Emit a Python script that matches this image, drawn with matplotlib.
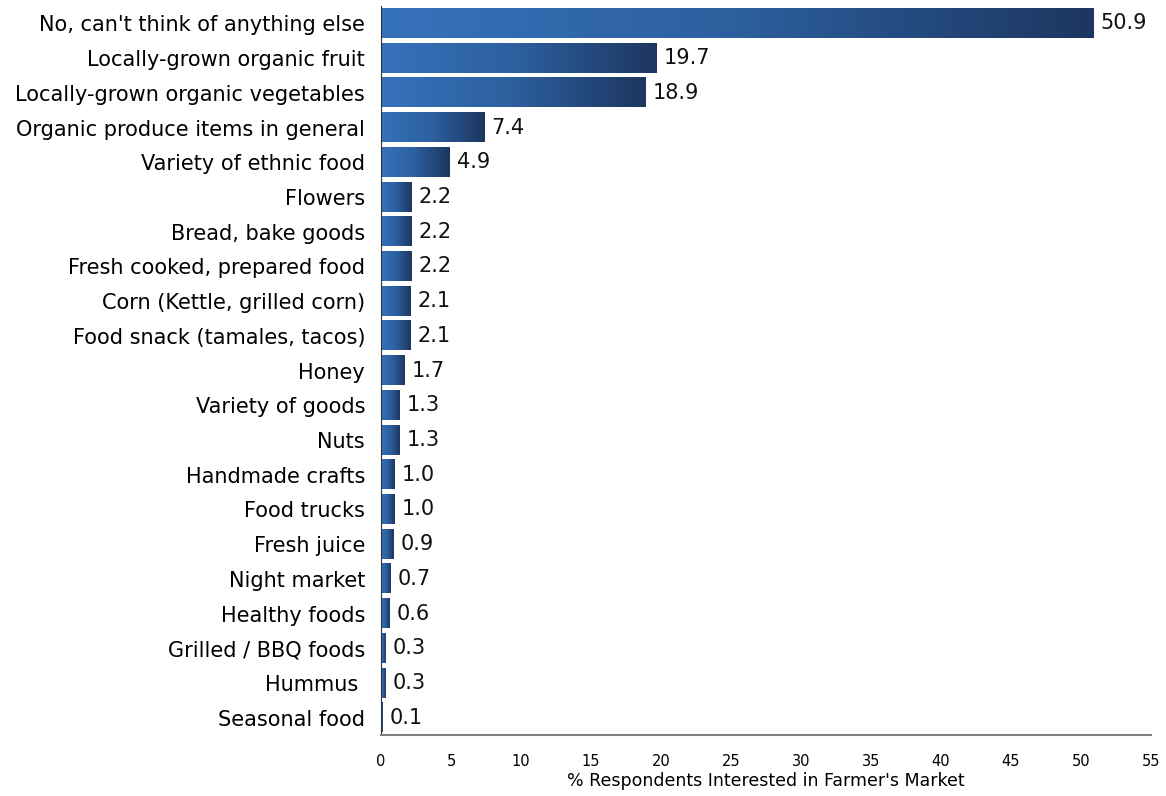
import numpy as np
import matplotlib.pyplot as plt
from matplotlib.colors import LinearSegmentedColormap

categories = [
    "No, can't think of anything else",
    "Locally-grown organic fruit",
    "Locally-grown organic vegetables",
    "Organic produce items in general",
    "Variety of ethnic food",
    "Flowers",
    "Bread, bake goods",
    "Fresh cooked, prepared food",
    "Corn (Kettle, grilled corn)",
    "Food snack (tamales, tacos)",
    "Honey",
    "Variety of goods",
    "Nuts",
    "Handmade crafts",
    "Food trucks",
    "Fresh juice",
    "Night market",
    "Healthy foods",
    "Grilled / BBQ foods",
    "Hummus ",
    "Seasonal food",
]
values = [50.9, 19.7, 18.9, 7.4, 4.9, 2.2, 2.2, 2.2, 2.1, 2.1, 1.7, 1.3, 1.3,
          1.0, 1.0, 0.9, 0.7, 0.6, 0.3, 0.3, 0.1]
xticks = list(range(0, 60, 5))

cmap = LinearSegmentedColormap.from_list("bar", ["#3672bb", "#2c5f9e", "#1d3660"])
grad = np.linspace(0, 1, 256).reshape(1, -1)

fig = plt.figure(figsize=(11.66, 7.96), dpi=100)
ax = fig.add_axes([381 / 1166, 1 - 735 / 796, (1151 - 381) / 1166, (735 - 6) / 796])

y = np.arange(len(categories))
bars = ax.barh(y, values, height=0.84, color="none")

for rect, v in zip(bars, values):
    x0, y0 = rect.get_x(), rect.get_y()
    w, h = rect.get_width(), rect.get_height()
    ax.imshow(grad, extent=[x0, x0 + w, y0, y0 + h], aspect="auto",
              cmap=cmap, origin="lower", zorder=2)
    ax.text(x0 + w + 0.5, y0 + h / 2, f"{v:.1f}", va="center", ha="left",
            fontsize=15, color="#111111")

ax.set_xlim(0, 55)
ax.set_ylim(len(categories) - 0.5, -0.5)
ax.set_yticks(y)
ax.set_yticklabels(categories, fontsize=15)
ax.set_xticks(xticks)
ax.set_xticklabels([str(t) for t in xticks], fontsize=10.5)
ax.set_xlabel("% Respondents Interested in Farmer's Market", fontsize=12.5, labelpad=2)

ax.spines["top"].set_visible(False)
ax.spines["right"].set_visible(False)
ax.spines["bottom"].set_color("#808080")
ax.spines["bottom"].set_linewidth(1.5)
ax.spines["left"].set_color("#333333")
ax.tick_params(axis="both", length=0)
ax.tick_params(axis="x", pad=14)
ax.tick_params(axis="y", pad=11.5)

fig.savefig("out.png", dpi=100)
